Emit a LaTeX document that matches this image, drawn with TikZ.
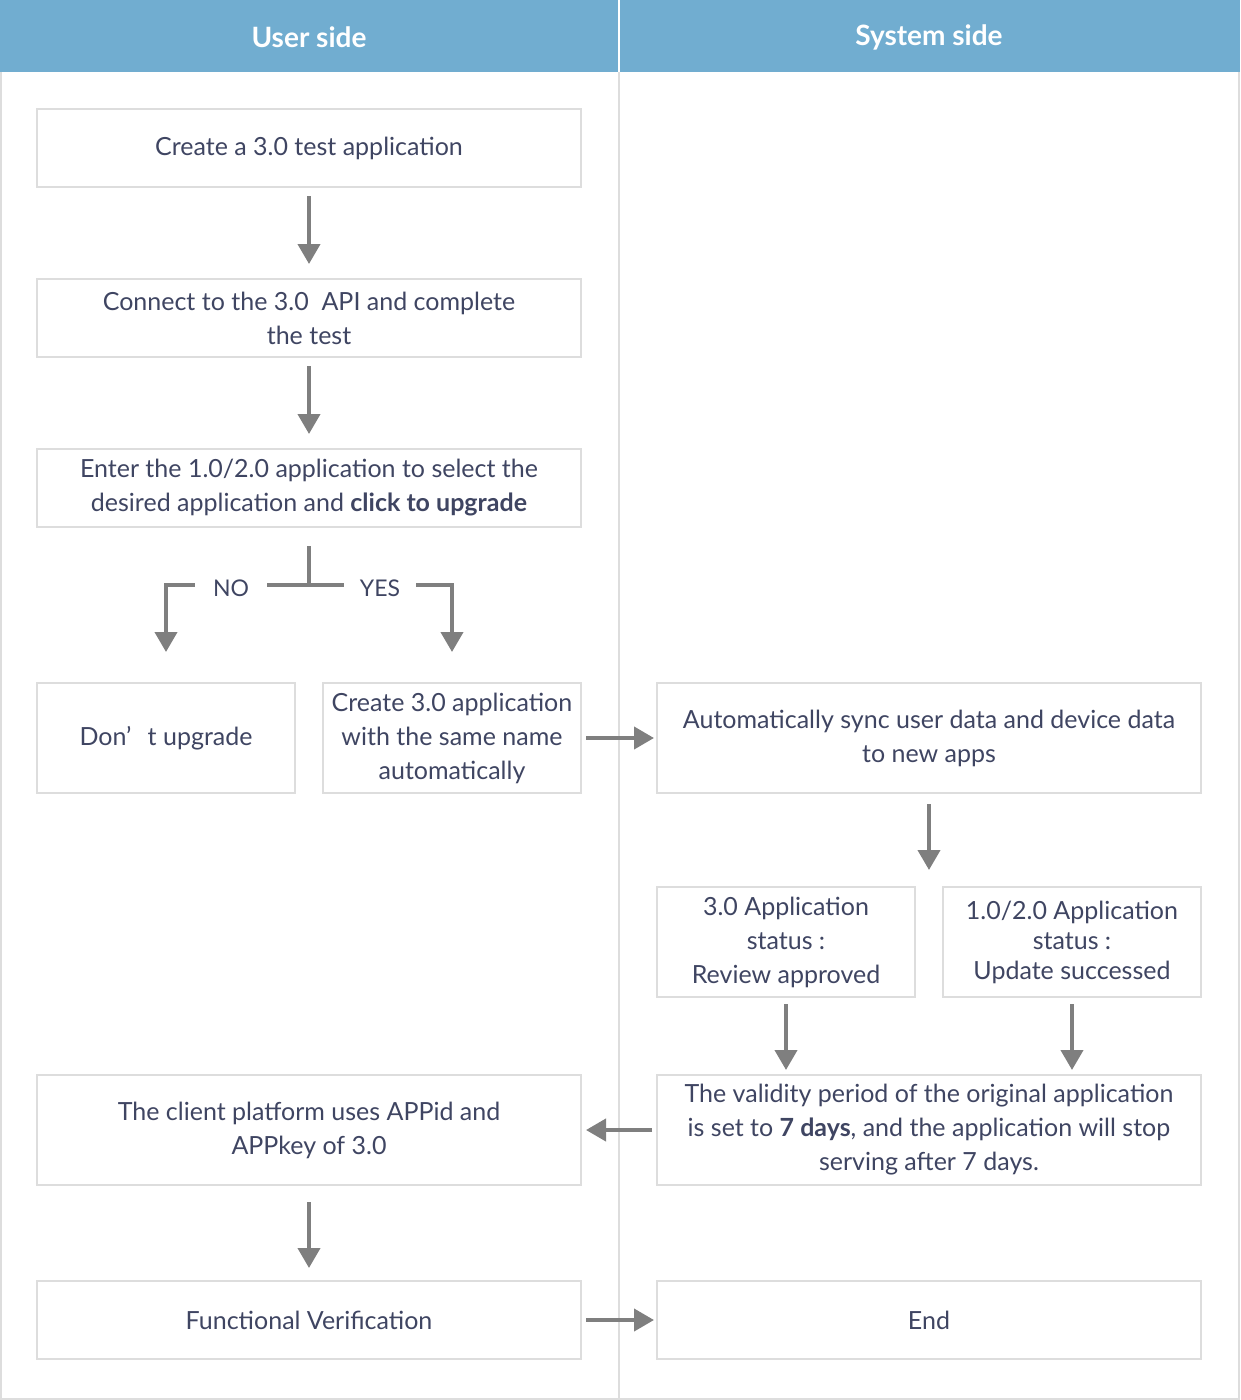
\documentclass[tikz,border=0pt]{standalone}
\usepackage{fontspec}
\setmainfont{Lato}
\usetikzlibrary{arrows.meta}
\definecolor{hdr}{HTML}{71ADD0}
\definecolor{boxgray}{HTML}{DDDDDD}
\definecolor{txt}{HTML}{3F4562}
\definecolor{arr}{HTML}{7F7F7F}
\tikzset{
  box/.style={draw=boxgray, line width=2pt, fill=white, text=txt, align=center, inner sep=0pt,
    font=\fontsize{25}{34}\selectfont},
  wide/.style={minimum width=544pt},
  narrow/.style={minimum width=258pt},
  short/.style={minimum height=78pt},
  tall/.style={minimum height=110pt},
  flow/.style={draw=arr, line width=4pt, -{Triangle[length=20pt,width=22pt]}},
  plain/.style={draw=arr, line width=4pt},
  lbl/.style={text=txt, font=\fontsize{23}{28}\selectfont, inner sep=0pt},
  head/.style={text=white, font=\fontsize{28}{30}\selectfont\bfseries}
}
\begin{document}
\begin{tikzpicture}[x=1pt,y=-1pt]
\useasboundingbox (0,0) rectangle (1240,1400);
% frame
\draw[boxgray, line width=2pt] (1,72) -- (1,1399) -- (1239,1399) -- (1239,72);
\draw[boxgray, line width=2pt] (619,72) -- (619,1399);
\fill[hdr] (0,0) rectangle (1240,72);
\draw[white, line width=1.5pt] (619,0) -- (619,72);
\node[head] (hu) at (309,37) {User side};
\node[head] (hs) at (929,37) {System side};
% boxes
\node[box,wide,short] (b1) at (309,148) {Create a 3.0 test application};
\node[box,wide,short] (b2) at (309,318) {Connect to the 3.0\ \ API and complete\\the test};
\node[box,wide,short] (b3) at (309,488) {Enter the 1.0/2.0 application to select the\\desired application and \textbf{click to upgrade}};
\node[box,narrow,tall] (b4) at (166,738) {Don’\hspace{0.65em}t upgrade};
\node[box,narrow,tall] (b5) at (452,738) {Create 3.0 application\\with the same name\\automatically};
\node[box,wide,tall] (b6) at (929,738) {Automatically sync user data and device data\\to new apps};
\node[box,narrow,tall] (b7) at (786,942) {3.0 Application\\status :\\Review approved};
\node[box,narrow,tall,font=\fontsize{25}{30}\selectfont] (b8) at (1072,942) {1.0/2.0 Application\\status :\\Update successed};
\node[box,wide,tall] (b9) at (929,1130) {The validity period of the original application\\is set to \textbf{7 days}, and the application will stop\\serving after 7 days.};
\node[box,wide,tall] (b10) at (309,1130) {The client platform uses APPid and\\APPkey of 3.0};
\node[box,wide,short] (b11) at (309,1320) {Functional Verification};
\node[box,wide,short] (b12) at (929,1320) {End};
% branch
\coordinate (split) at (309,585);
\node[lbl, inner xsep=18pt] (no) at (231,588) {NO};
\node[lbl, inner xsep=16pt] (yes) at (380,588) {YES};
\draw[plain, shorten <=18pt] (b3.south) -- (split);
\draw[plain] (no.east |- split) -- (yes.west |- split);
\draw[flow, shorten >=30pt] (no.west |- split) -| (b4.north);
\draw[flow, shorten >=30pt] (yes.east |- split) -| (b5.north);
% arrows
\draw[flow, shorten <=8pt, shorten >=14pt] (b1) -- (b2);
\draw[flow, shorten <=8pt, shorten >=14pt] (b2) -- (b3);
\draw[flow, shorten <=4pt, shorten >=2pt] (b5) -- (b6);
\draw[flow, shorten <=10pt, shorten >=16pt] (b6.south) -- (b6.south |- b7.north);
\draw[flow, shorten <=6pt, shorten >=4pt] (b7.south) -- (b7.south |- b9.north);
\draw[flow, shorten <=6pt, shorten >=4pt] (b8.south) -- (b8.south |- b9.north);
\draw[flow, shorten <=4pt, shorten >=4pt] (b9) -- (b10);
\draw[flow, shorten <=16pt, shorten >=12pt] (b10) -- (b11);
\draw[flow, shorten <=4pt, shorten >=2pt] (b11) -- (b12);
\end{tikzpicture}
\end{document}
